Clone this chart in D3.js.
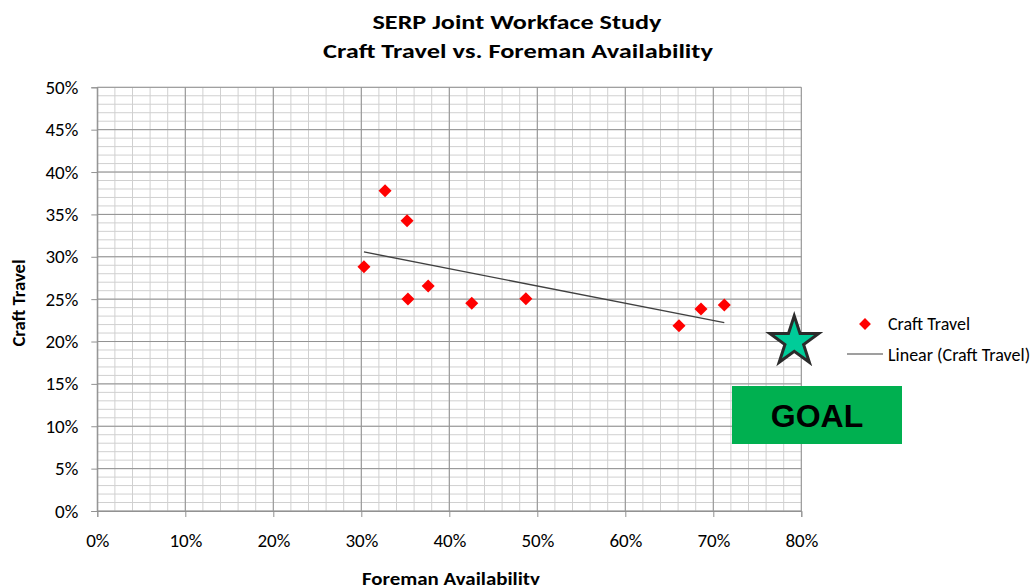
<!DOCTYPE html>
<html>
<head>
<meta charset="utf-8">
<script src="https://cdn.jsdelivr.net/npm/d3@7"></script>
<style>
  body { margin: 0; background: #fff; }
  svg text { font-family: Carlito, Calibri, "Liberation Sans", Arial, sans-serif; fill: #000; }
</style>
</head>
<body>
<div id="chart"></div>
<script>
// Foreman availability (x) and craft travel (y), as fractions
var foreman = [0.327, 0.352, 0.303, 0.353, 0.376, 0.4255, 0.487, 0.661, 0.686, 0.7125];
var travel  = [0.378, 0.3426, 0.2883, 0.2502, 0.2655, 0.2451, 0.2505, 0.2187, 0.2384, 0.2431];
var goal    = [0.792, 0.20];   // star marker
var xTicks  = [0, 0.1, 0.2, 0.3, 0.4, 0.5, 0.6, 0.7, 0.8];
var yTicks  = [0, 0.05, 0.1, 0.15, 0.2, 0.25, 0.3, 0.35, 0.4, 0.45, 0.5];
var legendLabels = ["Craft Travel", "Linear (Craft Travel)"];

const width = 1030, height = 585;
const pLeft = 97.3, pRight = 801.3, pTop = 87.3, pBottom = 511;

const svg = d3.select("#chart")
              .append("svg")
              .attr("width", width)
              .attr("height", height);

var x = d3.scaleLinear().domain([0, 0.8]).range([pLeft, pRight]);
var y = d3.scaleLinear().domain([0, 0.5]).range([pBottom, pTop]);
var pct = d3.format(".0%");

// minor grid
var grid = svg.append("g");
grid.selectAll(".vmin")
    .data(d3.range(0, 0.8001, 0.02))
    .enter().append("line")
    .attr("x1", d => x(d)).attr("x2", d => x(d))
    .attr("y1", pTop).attr("y2", pBottom)
    .attr("stroke", "#d0d0d0").attr("stroke-width", 1);
grid.selectAll(".hmin")
    .data(d3.range(0, 0.5001, 0.01))
    .enter().append("line")
    .attr("x1", pLeft).attr("x2", pRight)
    .attr("y1", d => y(d)).attr("y2", d => y(d))
    .attr("stroke", "#d0d0d0").attr("stroke-width", 1);

// major grid
grid.selectAll(".vmaj")
    .data(xTicks)
    .enter().append("line")
    .attr("x1", d => x(d)).attr("x2", d => x(d))
    .attr("y1", pTop).attr("y2", pBottom)
    .attr("stroke", "#929292").attr("stroke-width", 1);
grid.selectAll(".hmaj")
    .data(yTicks)
    .enter().append("line")
    .attr("x1", pLeft).attr("x2", pRight)
    .attr("y1", d => y(d)).attr("y2", d => y(d))
    .attr("stroke", "#929292").attr("stroke-width", 1);

// axes
var yAxis = svg.append("g")
    .attr("transform", "translate(" + pLeft + ",0)")
    .call(d3.axisLeft(y).tickValues(yTicks).tickFormat(pct).tickSize(6).tickPadding(13));
var xAxis = svg.append("g")
    .attr("transform", "translate(0," + pBottom + ")")
    .call(d3.axisBottom(x).tickValues(xTicks).tickFormat(pct).tickSize(6).tickPadding(17));
[xAxis, yAxis].forEach(function(a) {
  a.select(".domain").attr("stroke", "#929292");
  a.selectAll(".tick line").attr("stroke", "#929292");
  a.selectAll("text").style("font-size", "19px").attr("fill", "#000");
});

// linear trend line (least squares)
var mx = d3.mean(foreman), my = d3.mean(travel);
var sxy = d3.sum(foreman, (v, i) => (v - mx) * (travel[i] - my));
var sxx = d3.sum(foreman, v => (v - mx) * (v - mx));
var slope = sxy / sxx, icpt = my - slope * mx;
var ext = d3.extent(foreman);
svg.append("path")
   .datum(ext)
   .attr("d", d3.line().x(d => x(d)).y(d => y(icpt + slope * d)))
   .attr("stroke", "#404040").attr("stroke-width", 1.4).attr("fill", "none");

// points
var diamond = d3.symbol().type(d3.symbolSquare).size(85);
svg.selectAll(".pt")
   .data(d3.zip(foreman, travel))
   .enter().append("path")
   .attr("d", diamond)
   .attr("transform", d => "translate(" + x(d[0]) + "," + y(d[1]) + ") rotate(45)")
   .attr("fill", "#ff0000");

// goal star
svg.append("path")
   .attr("d", d3.symbol().type(d3.symbolStar).size(740)())
   .attr("transform", "translate(" + x(goal[0]) + "," + y(goal[1]) + ")")
   .attr("fill", "#00cc99").attr("stroke", "#2b2b2b").attr("stroke-width", 3)
   .attr("stroke-linejoin", "miter");

// goal box
svg.append("rect")
   .attr("x", 732).attr("y", 386).attr("width", 170).attr("height", 58)
   .attr("fill", "#00b050");
svg.append("text")
   .attr("x", 817).attr("y", 427)
   .attr("text-anchor", "middle")
   .style("font-family", "'Liberation Sans', Arial, sans-serif")
   .style("font-size", "32px").style("font-weight", "bold")
   .text("GOAL");

// titles
svg.append("text").attr("x", 517).attr("y", 29)
   .attr("text-anchor", "middle").attr("textLength", 289).attr("lengthAdjust", "spacingAndGlyphs")
   .style("font-size", "21px").style("font-weight", "bold")
   .text("SERP Joint Workface Study");
svg.append("text").attr("x", 518).attr("y", 58)
   .attr("text-anchor", "middle").attr("textLength", 390).attr("lengthAdjust", "spacingAndGlyphs")
   .style("font-size", "21px").style("font-weight", "bold")
   .text("Craft Travel vs. Foreman Availability");
svg.append("text")
   .attr("transform", "translate(25,303) rotate(-90)")
   .attr("text-anchor", "middle").attr("textLength", 87).attr("lengthAdjust", "spacingAndGlyphs")
   .style("font-size", "17px").style("font-weight", "bold")
   .text("Craft Travel");
svg.append("text").attr("x", 451).attr("y", 585)
   .attr("text-anchor", "middle").attr("textLength", 178).attr("lengthAdjust", "spacingAndGlyphs")
   .style("font-size", "17px").style("font-weight", "bold")
   .text("Foreman Availability");

// legend
var lg = svg.append("g");
lg.append("path").attr("d", d3.symbol().type(d3.symbolSquare).size(70))
  .attr("transform", "translate(865,324) rotate(45)").attr("fill", "#ff0000");
lg.append("line").attr("x1", 847).attr("x2", 883).attr("y1", 354).attr("y2", 354)
  .attr("stroke", "#7f7f7f").attr("stroke-width", 1.5);
lg.selectAll(".lt")
  .data(legendLabels)
  .enter().append("text")
  .attr("x", 888).attr("y", (d, i) => 330 + i * 31)
  .style("font-size", "18px")
  .text(d => d);
</script>
</body>
</html>
